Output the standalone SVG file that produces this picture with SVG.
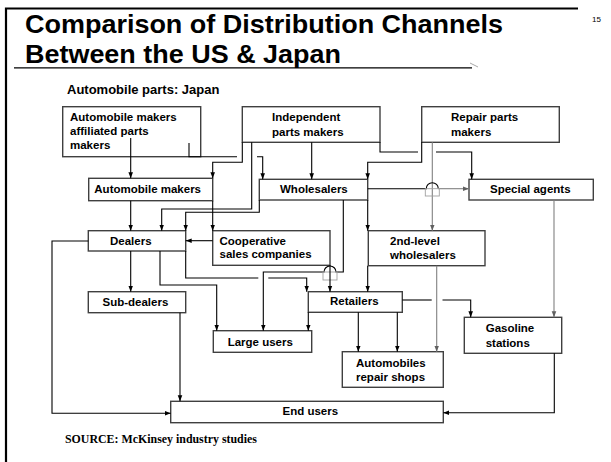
<svg xmlns="http://www.w3.org/2000/svg" width="611" height="462" viewBox="0 0 611 462">
  <style>
    .box { fill: #ffffff; stroke: #404040; stroke-width: 1.4; }
    .lbl { font-family: "Liberation Sans", Arial, sans-serif; font-weight: bold; font-size: 11.5px; fill: #000000; }
    .ttl { font-family: "Liberation Sans", Arial, sans-serif; font-weight: bold; font-size: 25px; fill: #000000; }
    .ln { fill: none; stroke: #000000; stroke-width: 1.1; }
    .lg { fill: none; stroke: #808080; stroke-width: 1.1; }
    .hopbox { fill: none; stroke: #a0a0a0; stroke-width: 0.9; }
  </style>
  <defs>
    <marker id="ah" markerUnits="userSpaceOnUse" markerWidth="6" markerHeight="6" viewBox="0 0 6 6" refX="6" refY="3" orient="auto">
      <path d="M0,0.7 L6,3 L0,5.3 z" fill="#000000"/>
    </marker>
    <marker id="ahg" markerUnits="userSpaceOnUse" markerWidth="6" markerHeight="6" viewBox="0 0 6 6" refX="6" refY="3" orient="auto">
      <path d="M0,0.7 L6,3 L0,5.3 z" fill="#606060"/>
    </marker>
  </defs>

  <rect width="611" height="462" fill="#ffffff"/>

  <!-- slide frame and heading -->
  <g id="frame">
    <path d="M6,462 V8.5 H578" stroke="#000000" stroke-width="2.2" fill="none"/>
    <text class="ttl" x="25" y="33" textLength="478" lengthAdjust="spacingAndGlyphs">Comparison of Distribution Channels</text>
    <text class="ttl" x="25" y="62.8" textLength="316" lengthAdjust="spacingAndGlyphs">Between the US &amp; Japan</text>
    <line x1="14" y1="67.8" x2="472" y2="67.8" stroke="#000000" stroke-width="1.3"/>
    <line x1="470" y1="63" x2="478" y2="67" stroke="#909090" stroke-width="0.8"/>
    <text x="592" y="22" font-family="'Liberation Sans', Arial, sans-serif" font-size="8">15</text>
    <text x="67" y="94" font-family="'Liberation Sans', Arial, sans-serif" font-weight="bold" font-size="13">Automobile parts: Japan</text>
    <text x="65" y="442.7" font-family="'Liberation Serif', 'Times New Roman', serif" font-weight="bold" font-size="11.9">SOURCE: McKinsey industry studies</text>
  </g>

  <!-- channel nodes -->
  <g id="affiliated-makers">
    <rect class="box" x="62.7" y="106.7" width="138" height="50"/>
    <text class="lbl" x="70" y="120.5">Automobile makers</text>
    <text class="lbl" x="70" y="135">affiliated parts</text>
    <text class="lbl" x="70" y="149">makers</text>
  </g>
  <g id="independent-makers">
    <rect class="box" x="242.3" y="106.7" width="137.7" height="35.6"/>
    <text class="lbl" x="272" y="120.7">Independent</text>
    <text class="lbl" x="272" y="135.7">parts makers</text>
  </g>
  <g id="repair-makers">
    <rect class="box" x="421.7" y="106.7" width="137.6" height="35.6"/>
    <text class="lbl" x="451" y="120.7">Repair parts</text>
    <text class="lbl" x="451" y="135.7">makers</text>
  </g>
  <g id="auto-makers">
    <rect class="box" x="88.7" y="178.3" width="124" height="22.4"/>
    <text class="lbl" x="94.3" y="193.3">Automobile makers</text>
  </g>
  <g id="wholesalers">
    <rect class="box" x="259.3" y="179.3" width="108.4" height="20.7"/>
    <text class="lbl" x="280" y="193.3">Wholesalers</text>
  </g>
  <g id="special-agents">
    <rect class="box" x="469" y="179.3" width="124.3" height="20.7"/>
    <text class="lbl" x="490" y="193.3">Special agents</text>
  </g>
  <g id="dealers">
    <rect class="box" x="88.3" y="230.7" width="97.4" height="20.3"/>
    <text class="lbl" x="110" y="244.5">Dealers</text>
  </g>
  <g id="cooperative">
    <rect class="box" x="212.7" y="230.7" width="117.3" height="34.6"/>
    <text class="lbl" x="219.5" y="245">Cooperative</text>
    <text class="lbl" x="219.5" y="258.3">sales companies</text>
  </g>
  <g id="second-wholesalers">
    <rect class="box" x="368.3" y="230.7" width="116.7" height="35"/>
    <text class="lbl" x="390" y="245">2nd-level</text>
    <text class="lbl" x="390" y="258.5">wholesalers</text>
  </g>
  <g id="sub-dealers">
    <rect class="box" x="88.3" y="291.7" width="97.4" height="21"/>
    <text class="lbl" x="102.5" y="305.7">Sub-dealers</text>
  </g>
  <g id="retailers">
    <rect class="box" x="308.3" y="291.7" width="94" height="20.6"/>
    <text class="lbl" x="330" y="305.3">Retailers</text>
  </g>
  <g id="large-users">
    <rect class="box" x="213.3" y="330.7" width="98.4" height="21.6"/>
    <text class="lbl" x="227.7" y="345.7">Large users</text>
  </g>
  <g id="repair-shops">
    <rect class="box" x="342.3" y="351.7" width="101" height="35.6"/>
    <text class="lbl" x="356" y="366.7">Automobiles</text>
    <text class="lbl" x="356" y="381">repair shops</text>
  </g>
  <g id="gasoline">
    <rect class="box" x="464.3" y="317.3" width="97.4" height="36"/>
    <text class="lbl" x="485.7" y="331.7">Gasoline</text>
    <text class="lbl" x="485.7" y="346.7">stations</text>
  </g>
  <g id="end-users">
    <rect class="box" x="170.7" y="401.3" width="272.6" height="21.4"/>
    <text class="lbl" x="282.5" y="415.3">End users</text>
  </g>

  <!-- flows between channels -->
  <g id="connectors">
    <path class="ln" d="M130.7,138 V178.3" marker-end="url(#ah)"/>
    <path class="ln" d="M189,143 V156.7 H237"/>
    <path class="ln" d="M257,156.7 H262.7 V179.3" marker-end="url(#ah)"/>
    <path class="ln" d="M242.3,142.3 V162.3 H212.7 V178.3" marker-end="url(#ah)"/>
    <path class="ln" d="M251.7,142.3 V209 H161.7 V230.7" marker-end="url(#ah)"/>
    <path class="ln" d="M311.7,142.3 V179.3" marker-end="url(#ah)"/>
    <path class="ln" d="M380,142.3 V152 H418"/>
    <path class="ln" d="M436,152 H471.7 V179.3" marker-end="url(#ah)"/>
    <path class="ln" d="M421.7,142.3 V162.3 H367.7 V179.3" marker-end="url(#ah)"/>
    <path class="lg" d="M432.3,142.3 V230.7" marker-end="url(#ahg)"/>
    <path class="ln" d="M367.7,188.7 H426.3 A6,6 0 0 1 438.3,188.7"/>
    <path class="lg" d="M438.3,188.7 H469" marker-end="url(#ahg)"/>
    <rect class="hopbox" x="425.3" y="188.7" width="14" height="7.3"/>
    <path class="ln" d="M212.7,200.7 V230.7" marker-end="url(#ah)"/>
    <path class="ln" d="M130.7,200.7 V230.7" marker-end="url(#ah)"/>
    <path class="ln" d="M259.3,200 V212.3 H185.7 V230.7" marker-end="url(#ah)"/>
    <path class="ln" d="M367.7,200 V230.7" marker-end="url(#ah)"/>
    <path class="ln" d="M343.3,200 V272 H336 A6,6 0 0 0 324,272 H263.3 V330.7" marker-end="url(#ah)"/>
    <rect class="hopbox" x="323" y="272" width="14" height="8"/>
    <path class="ln" d="M330,265.3 V291.7" marker-end="url(#ah)"/>
    <path class="ln" d="M212.7,240.7 H185.7" marker-end="url(#ah)"/>
    <path class="ln" d="M130.7,251 V291.7" marker-end="url(#ah)"/>
    <path class="ln" d="M160,251 V285 H216.7 V330.7" marker-end="url(#ah)"/>
    <path class="ln" d="M185.7,251 V278 H258.3"/>
    <path class="ln" d="M268.3,278 H306.7 V291.7" marker-end="url(#ah)"/>
    <path class="ln" d="M88.3,241 H52 V413.3 H170.7" marker-end="url(#ah)"/>
    <path class="ln" d="M367.7,265.7 V291.7" marker-end="url(#ah)"/>
    <path class="lg" d="M436.7,265.7 V351.7" marker-end="url(#ahg)"/>
    <path class="ln" d="M402.3,300 H431.7"/>
    <path class="ln" d="M442.5,300 H470.7 V317.3" marker-end="url(#ah)"/>
    <path class="ln" d="M358.3,312.3 V351.7" marker-end="url(#ah)"/>
    <path class="ln" d="M397.3,312.3 V351.7" marker-end="url(#ah)"/>
    <path class="ln" d="M308.3,312.3 V330.7" marker-end="url(#ah)"/>
    <path class="lg" d="M554,200 V317.3" marker-end="url(#ahg)"/>
    <path class="ln" d="M554.3,353.3 V412.7 H443.3" marker-end="url(#ah)"/>
    <path class="ln" d="M180,312.7 V401.3" marker-end="url(#ah)"/>
  </g>
</svg>
